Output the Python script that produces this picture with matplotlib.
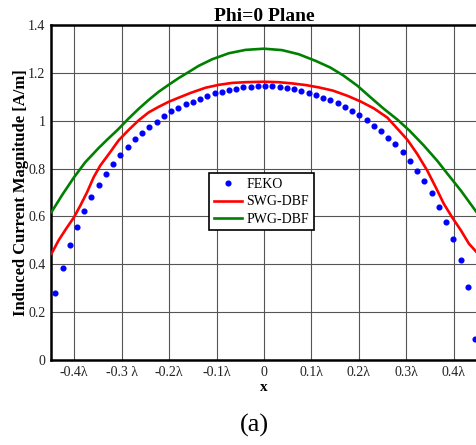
import numpy as np
import matplotlib
matplotlib.use("Agg")
import matplotlib.pyplot as plt

plt.rcParams['font.family'] = ['Liberation Serif', 'DejaVu Serif']

# FEKO samples (uniform grid in wavelengths)
feko_x = np.linspace(-0.440, 0.445, 59)
feko_y = [0.280, 0.383, 0.479, 0.557, 0.624, 0.682, 0.733, 0.778, 0.819, 0.858,
          0.892, 0.923, 0.948, 0.975, 0.996, 1.019, 1.039, 1.053, 1.068, 1.078,
          1.092, 1.103, 1.114, 1.122, 1.129, 1.133, 1.139, 1.142, 1.143, 1.143,
          1.143, 1.140, 1.136, 1.131, 1.125, 1.117, 1.107, 1.097, 1.086, 1.074,
          1.058, 1.040, 1.022, 1.004, 0.980, 0.957, 0.929, 0.901, 0.868, 0.832,
          0.790, 0.749, 0.699, 0.640, 0.578, 0.504, 0.417, 0.307, 0.089]

# SWG-DBF curve
swg_x = [-0.448, -0.433, -0.417, -0.401, -0.387, -0.373, -0.359, -0.345, -0.327,
         -0.306, -0.285, -0.264, -0.243, -0.222, -0.201, -0.180, -0.155, -0.123,
         -0.095, -0.067, -0.039, 0.0, 0.031, 0.059, 0.088, 0.116, 0.145, 0.176,
         0.204, 0.232, 0.260, 0.281, 0.302, 0.323, 0.344, 0.362, 0.379, 0.397,
         0.415, 0.432, 0.448]
swg_y = [0.444, 0.500, 0.549, 0.595, 0.646, 0.701, 0.764, 0.813, 0.861,
         0.919, 0.962, 1.002, 1.035, 1.058, 1.079, 1.096, 1.116, 1.138,
         1.150, 1.158, 1.161, 1.163, 1.161, 1.156, 1.149, 1.139, 1.126, 1.104,
         1.080, 1.051, 1.013, 0.967, 0.921, 0.861, 0.792, 0.722, 0.653, 0.595,
         0.542, 0.486, 0.451]

# PWG-DBF curve
pwg_x = [-0.448, -0.426, -0.401, -0.377, -0.349, -0.331, -0.308, -0.285, -0.264,
         -0.243, -0.222, -0.201, -0.180, -0.160, -0.138, -0.109, -0.074, -0.039,
         0.0, 0.038, 0.073, 0.109, 0.140, 0.168, 0.197, 0.225, 0.253, 0.281,
         0.307, 0.337, 0.365, 0.386, 0.415, 0.448]
pwg_y = [0.618, 0.688, 0.762, 0.826, 0.885, 0.920, 0.963, 1.010, 1.050,
         1.087, 1.121, 1.150, 1.178, 1.202, 1.229, 1.257, 1.282, 1.296,
         1.301, 1.295, 1.278, 1.250, 1.222, 1.188, 1.146, 1.097, 1.049, 1.005,
         0.958, 0.896, 0.833, 0.780, 0.708, 0.618]

xticks = [-0.4, -0.3, -0.2, -0.1, 0.0, 0.1, 0.2, 0.3, 0.4]
xtick_labels = ['-0.4λ', '-0.3 λ', '-0.2λ', '-0.1λ', '0', '0.1λ', '0.2λ', '0.3λ', '0.4λ']
yticks = [0, 0.2, 0.4, 0.6, 0.8, 1.0, 1.2, 1.4]
ytick_labels = ['0', '0.2', '0.4', '0.6', '0.8', '1', '1.2', '1.4']

fig = plt.figure(figsize=(4.76, 4.45), dpi=100)
ax = fig.add_axes([51 / 476, 85 / 445, 426 / 476, 335 / 445])

ax.plot(feko_x, feko_y, 'o', color='#0000ff', markersize=3.4, label='FEKO', zorder=3)
ax.plot(swg_x, swg_y, '-', color='#ff0000', linewidth=1.9, label='SWG-DBF', zorder=3)
ax.plot(pwg_x, pwg_y, '-', color='#008000', linewidth=1.9, label='PWG-DBF', zorder=3)

ax.set_xlim(-0.449, 0.449)
ax.set_ylim(0, 1.4)
ax.set_xticks(xticks)
ax.set_xticklabels(xtick_labels)
ax.set_yticks(yticks)
ax.set_yticklabels(ytick_labels)
ax.tick_params(length=0, labelsize=10, pad=4, colors='#222222')
ax.grid(True, color='#555555', linewidth=0.8)
ax.set_axisbelow(True)
for side in ['left', 'bottom', 'top']:
    ax.spines[side].set_linewidth(1.8)
ax.spines['right'].set_visible(False)

ax.set_title('Phi=0 Plane', fontsize=14, fontweight='bold', pad=2)
ax.set_xlabel('x', fontsize=11, fontweight='bold', labelpad=2)
ax.set_ylabel('Induced Current Magnitude [A/m]', fontsize=12, fontweight='bold', labelpad=-1)

leg = ax.legend(loc='upper left', bbox_to_anchor=(0.372, 0.557), fontsize=10,
                frameon=True, fancybox=False, edgecolor='black', framealpha=1,
                handlelength=2.0, handletextpad=0.3, labelspacing=0.3,
                borderpad=0.35, borderaxespad=0)
leg.get_frame().set_linewidth(1.2)

fig.text(254 / 476, 1 - 425 / 445, '(a)', fontsize=19, ha='center', va='center')

fig.savefig('out.png', dpi=100)
